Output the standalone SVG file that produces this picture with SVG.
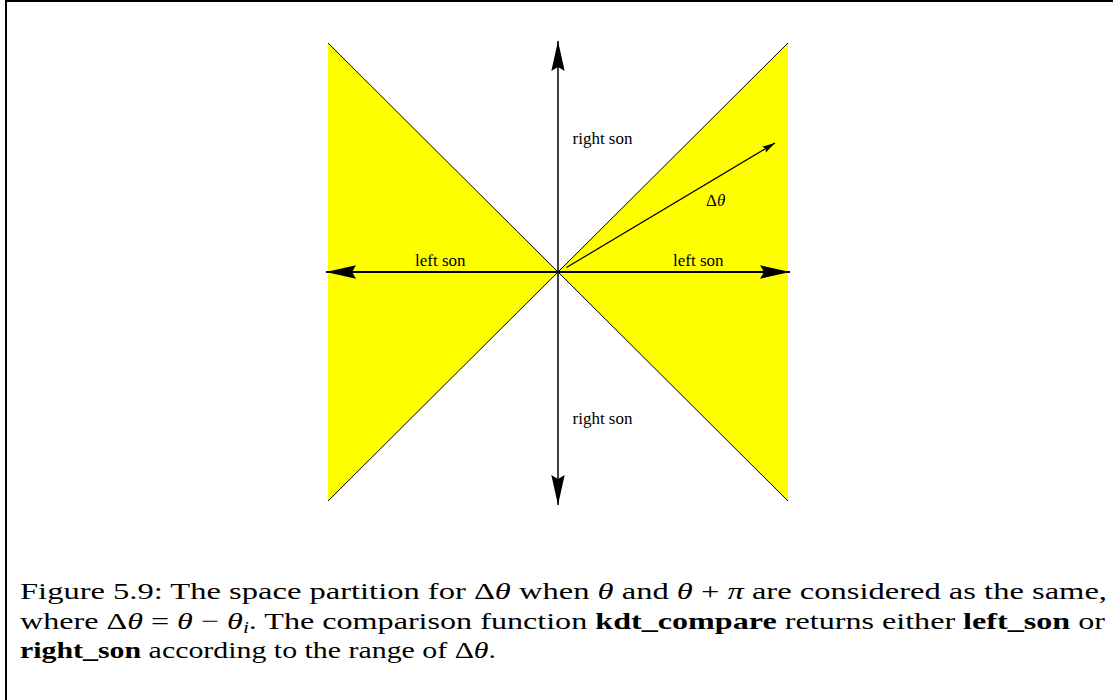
<svg xmlns="http://www.w3.org/2000/svg" width="1113" height="700" viewBox="0 0 1113 700">
<defs>
<style>
.lbl{font-family:"Liberation Serif","Times New Roman",serif;font-size:17px;fill:#000}
.cap{font-family:"Liberation Serif","Times New Roman",serif;font-size:24px;fill:#000}
.b{font-weight:bold}
.i{font-style:italic}
.diag{fill:none;stroke:#000;stroke-width:1}
</style>
<marker id="big" viewBox="0 -7 30 14" refX="30" refY="0" markerWidth="30" markerHeight="14" markerUnits="userSpaceOnUse" orient="auto-start-reverse">
<path d="M0,-6.7 L30,0 L0,6.7 L4,0 z" fill="#000"/>
</marker>
<marker id="small" viewBox="0 -4 13 8" refX="13" refY="0" markerWidth="13" markerHeight="8" markerUnits="userSpaceOnUse" orient="auto">
<path d="M0,-3.5 L13,0 L0,3.5 L2.5,0 z" fill="#000"/>
</marker>
</defs>
<rect width="1113" height="700" fill="#fff"/>
<g id="frame">
<line x1="6" y1="0" x2="6" y2="700" stroke="#000" stroke-width="2"/>
<line x1="5" y1="1" x2="1113" y2="1" stroke="#000" stroke-width="2"/>
</g>
<g id="regions">
<polygon id="left-region" points="328,43 558,272 328,501" fill="#ffff00"/>
<polygon id="right-region" points="788,43 558,272 788,501" fill="#ffff00"/>
<polyline class="diag" points="328,43 558,272 788,501"/>
<polyline class="diag" points="328,501 558,272 788,43"/>
</g>
<g id="connectors">
<line x1="558" y1="41" x2="558" y2="505" stroke="#404040" stroke-width="2" marker-start="url(#big)" marker-end="url(#big)"/>
<line x1="326" y1="272" x2="790" y2="272" stroke="#000" stroke-width="2" marker-start="url(#big)" marker-end="url(#big)"/>
<line x1="566.5" y1="267.5" x2="775" y2="143" stroke="#000" stroke-width="1.2" marker-end="url(#small)"/>
</g>
<g id="labels">
<text class="lbl" x="572.5" y="144">right son</text>
<text class="lbl" x="572.5" y="424">right son</text>
<text class="lbl" x="415" y="266">left son</text>
<text class="lbl" x="673" y="266">left son</text>
<text class="lbl" x="706" y="206">Δ<tspan class="i">θ</tspan></text>
</g>
<g id="caption">
<text class="cap" x="20" y="599" textLength="1087" lengthAdjust="spacingAndGlyphs">Figure 5.9: The space partition for Δ<tspan class="i">θ</tspan> when <tspan class="i">θ</tspan> and <tspan class="i">θ</tspan> + <tspan class="i">π</tspan> are considered as the same,</text>
<text class="cap" x="20" y="629" textLength="1085" lengthAdjust="spacingAndGlyphs">where Δ<tspan class="i">θ</tspan> = <tspan class="i">θ</tspan> − <tspan class="i">θ</tspan><tspan class="i" font-size="16" dy="4">i</tspan><tspan dy="-4">. The comparison function </tspan><tspan class="b">kdt_compare</tspan> returns either <tspan class="b">left_son</tspan> or</text>
<text class="cap" x="20" y="658" textLength="476" lengthAdjust="spacingAndGlyphs"><tspan class="b">right_son</tspan> according to the range of Δ<tspan class="i">θ</tspan>.</text>
</g>
</svg>
